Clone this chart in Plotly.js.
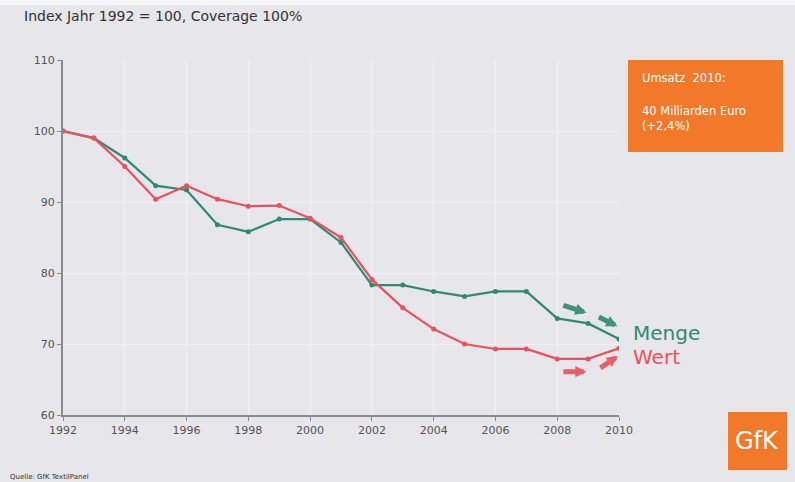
<!DOCTYPE html>
<html>
<head>
<meta charset="utf-8">
<script src="https://cdn.plot.ly/plotly-3.0.1.min.js"></script>
<style>
html,body{margin:0;padding:0;background:#e6e6eb;}
#chart{width:795px;height:482px;}
</style>
</head>
<body>
<div id="chart"></div>
<script>
const years = [1992,1993,1994,1995,1996,1997,1998,1999,2000,2001,2002,2003,2004,2005,2006,2007,2008,2009,2010];
const menge = [100,99.0,96.2,92.3,91.7,86.8,85.8,87.6,87.6,84.3,78.3,78.3,77.4,76.7,77.4,77.4,73.6,72.9,70.7];
const wert  = [100,99.0,95.0,90.4,92.3,90.4,89.4,89.5,87.7,85.0,79.1,75.1,72.1,70.0,69.3,69.3,67.9,67.9,69.4];
const xTicks = [1992,1994,1996,1998,2000,2002,2004,2006,2008,2010];
const yTicks = [60,70,80,90,100,110];
const seriesNames = ["Menge","Wert"];
const boxLines = ["Umsatz  2010:","40 Milliarden Euro<br>(+2,4%)"];

const green = "#2f8a70";
const red = "#e8525a";

const traces = [
  {x: years, y: menge, name: seriesNames[0], mode: "lines+markers",
   line: {color: green, width: 2.2}, marker: {color: green, size: 5}},
  {x: years, y: wert, name: seriesNames[1], mode: "lines+markers",
   line: {color: red, width: 2.2}, marker: {color: red, size: 5}}
];

function arrow(x0, y0, x1, y1, color) {
  return {x: x1, y: y1, ax: x0, ay: y0, xref: "x", yref: "y", axref: "x", ayref: "y",
    text: "", showarrow: true, arrowhead: 2, arrowsize: 0.45, arrowwidth: 5, arrowcolor: color, opacity: 0.9};
}

const layout = {
  width: 795, height: 482,
  margin: {l: 63, r: 176, t: 60, b: 67},
  paper_bgcolor: "#e6e6eb",
  plot_bgcolor: "#e6e6eb",
  showlegend: false,
  font: {family: "DejaVu Sans", color: "#555"},
  xaxis: {range: [1992, 2010], tickvals: xTicks, ticktext: xTicks.map(String),
    showgrid: true, gridcolor: "#f2f2f5", gridwidth: 1,
    showline: true, linecolor: "#8a8a90", linewidth: 2,
    ticks: "outside", ticklen: 4, tickcolor: "#8a8a90",
    tickfont: {size: 11, color: "#555"}, zeroline: false, fixedrange: true},
  yaxis: {range: [60, 110], tickvals: yTicks, ticktext: yTicks.map(String),
    showgrid: true, gridcolor: "#f0f0f4", gridwidth: 1,
    showline: true, linecolor: "#8a8a90", linewidth: 2,
    ticks: "outside", ticklen: 4, tickcolor: "#8a8a90",
    tickfont: {size: 11, color: "#555"}, zeroline: false, fixedrange: true},
  shapes: [
    {type: "rect", xref: "paper", yref: "paper", x0: -0.12, x1: 1.33, y0: (415-5)/355, y1: (415-0)/355,
     fillcolor: "#f6f6f8", line: {width: 0}, layer: "below"},
    {type: "rect", xref: "paper", yref: "paper",
     x0: (628-63)/556, x1: (783-63)/556, y0: (415-152)/355, y1: (415-60)/355,
     fillcolor: "#f2782a", line: {width: 0}},
    {type: "rect", xref: "paper", yref: "paper",
     x0: (728-63)/556, x1: (787-63)/556, y0: (415-470)/355, y1: (415-412)/355,
     fillcolor: "#f2782a", line: {width: 0}}
  ],
  annotations: [
    {text: "Index Jahr 1992 = 100, Coverage 100%", xref: "paper", yref: "paper",
     x: -63/556 + 22/556, y: (415-16)/355, xanchor: "left", yanchor: "middle", showarrow: false,
     font: {size: 14, color: "#333", family: "DejaVu Sans"}},
    {text: boxLines[0], xref: "paper", yref: "paper",
     x: (640-63)/556, y: (415-78)/355, xanchor: "left", yanchor: "middle", showarrow: false,
     font: {size: 11.5, color: "#fff", family: "DejaVu Sans"}},
    {text: boxLines[1], xref: "paper", yref: "paper", align: "left",
     x: (640-63)/556, y: (415-118)/355, xanchor: "left", yanchor: "middle", showarrow: false,
     font: {size: 11.5, color: "#fff", family: "DejaVu Sans"}},
    {text: "GfK", xref: "paper", yref: "paper",
     x: (757-63)/556, y: (415-441)/355, xanchor: "center", yanchor: "middle", showarrow: false,
     font: {size: 24, color: "#fff", family: "DejaVu Sans"}},
    {text: seriesNames[0], xref: "paper", yref: "paper",
     x: (631-63)/556, y: (415-333)/355, xanchor: "left", yanchor: "middle", showarrow: false,
     font: {size: 20, color: green, family: "DejaVu Sans"}},
    {text: seriesNames[1], xref: "paper", yref: "paper",
     x: (631-63)/556, y: (415-357)/355, xanchor: "left", yanchor: "middle", showarrow: false,
     font: {size: 20, color: red, family: "DejaVu Sans"}},
    {text: "Quelle: GfK TextilPanel", xref: "paper", yref: "paper",
     x: -63/556 + 8/556, y: (415-477)/355, xanchor: "left", yanchor: "middle", showarrow: false,
     font: {size: 7, color: "#333", family: "DejaVu Sans"}},
    arrow(2008.15, 75.5, 2008.95, 74.4, green),
    arrow(2009.3, 73.9, 2009.95, 72.5, green),
    arrow(2008.15, 66.1, 2008.95, 66.1, red),
    arrow(2009.35, 66.5, 2009.97, 68.3, red)
  ]
};

Plotly.newPlot("chart", traces, layout, {displayModeBar: false, staticPlot: true});
</script>
</body>
</html>
